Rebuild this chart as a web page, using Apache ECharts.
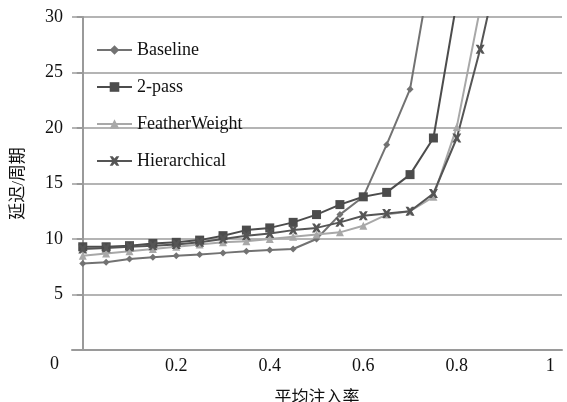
<!DOCTYPE html>
<html>
<head>
<meta charset="utf-8">
<script src="https://cdn.jsdelivr.net/npm/echarts@6/dist/echarts.min.js"></script>
<style>
  html, body { margin: 0; padding: 0; background: #fff; }
  #chart { width: 567px; height: 402px; }
</style>
</head>
<body>
<div id="chart"></div>
<script>
// injection rates (x)
var rates = [0, 0.05, 0.1, 0.15, 0.2, 0.25, 0.3, 0.35, 0.4, 0.45, 0.5, 0.55, 0.6, 0.65, 0.7, 0.75, 0.8, 0.85, 0.9];
// latency in cycles
var baseline     = [7.8, 7.9, 8.2, 8.35, 8.5, 8.6, 8.75, 8.9, 9.0, 9.1, 10.0, 12.2, 13.8, 18.5, 23.5, 35.6];
var twoPass      = [9.3, 9.3, 9.4, 9.6, 9.7, 9.9, 10.3, 10.8, 11.0, 11.5, 12.2, 13.1, 13.8, 14.2, 15.8, 19.1, 31.4];
var featherW     = [8.5, 8.7, 8.9, 9.1, 9.3, 9.5, 9.7, 9.8, 10.0, 10.2, 10.4, 10.6, 11.2, 12.2, 12.5, 13.8, 20.1, 30.8];
var hierarchical = [9.1, 9.2, 9.3, 9.4, 9.5, 9.7, 10.0, 10.3, 10.5, 10.8, 11.0, 11.5, 12.1, 12.3, 12.5, 14.1, 19.1, 27.1, 36.5];
var xTicks = [0.2, 0.4, 0.6, 0.8, 1];

var font = '"Liberation Serif", "Noto Sans CJK SC", serif';
var xMark = 'path://M0,0 L3,0 L5,2.5 L7,0 L10,0 L7,5 L10,10 L7,10 L5,7.5 L3,10 L0,10 L3,5 Z';

function pairs(vals) {
    return vals.map(function (v, i) { return [rates[i], v]; });
}

function mkSeries(name, vals, color, symbol, size) {
    return {
        name: name,
        type: 'line',
        data: pairs(vals),
        symbol: symbol,
        symbolSize: size,
        clip: true,
        lineStyle: { color: color, width: 2 },
        itemStyle: { color: color },
        emphasis: { disabled: true }
    };
}

var myChart = echarts.init(document.getElementById('chart'));
var option = {
    animation: false,
    backgroundColor: '#fff',
    textStyle: { fontFamily: font },
    grid: { left: 72, right: 5, top: 17, bottom: 52, outerBoundsMode: 'none', containLabel: false },
    legend: {
        orient: 'vertical',
        left: 91,
        top: 36,
        itemWidth: 35,
        itemHeight: 12,
        itemGap: 19,
        textStyle: { fontFamily: font, fontSize: 18, color: '#111' },
        data: ['Baseline', '2-pass', 'FeatherWeight', 'Hierarchical']
    },
    xAxis: {
        type: 'value',
        min: -0.023,
        max: 1.025,
        name: '平均注入率',
        nameLocation: 'middle',
        nameGap: 40,
        nameTextStyle: { fontFamily: font, fontSize: 17, color: '#111' },
        axisLine: { show: true, lineStyle: { color: '#9a9a9a', width: 2 } },
        axisTick: { show: false },
        splitLine: { show: false },
        axisLabel: {
            customValues: xTicks,
            fontFamily: font,
            fontSize: 18,
            color: '#111',
            margin: 7
        }
    },
    yAxis: {
        type: 'value',
        min: 0,
        max: 30,
        interval: 5,
        name: '延迟/周期',
        nameLocation: 'middle',
        nameGap: 45,
        nameTextStyle: { fontFamily: font, fontSize: 17, color: '#111' },
        axisLine: { show: true, lineStyle: { color: '#9a9a9a', width: 2 } },
        axisTick: { show: true, inside: false, length: 6, lineStyle: { color: '#9a9a9a', width: 2 } },
        splitLine: { show: true, lineStyle: { color: '#b4b4b4', width: 2 } },
        axisLabel: {
            fontFamily: font,
            fontSize: 18,
            color: '#111',
            margin: 9,
            formatter: function (v) { return v === 0 ? '' : String(v); }
        }
    },
    graphic: [{
        type: 'text',
        left: 50,
        top: 355,
        style: { text: '0', font: '18px ' + font, fill: '#111' }
    }],
    series: [
        mkSeries('Baseline', baseline, '#727272', 'diamond', 7),
        mkSeries('2-pass', twoPass, '#4c4c4c', 'rect', 9),
        mkSeries('FeatherWeight', featherW, '#a8a8a8', 'triangle', 8),
        mkSeries('Hierarchical', hierarchical, '#555555', xMark, 9)
    ]
};
option && myChart.setOption(option);
</script>
</body>
</html>
